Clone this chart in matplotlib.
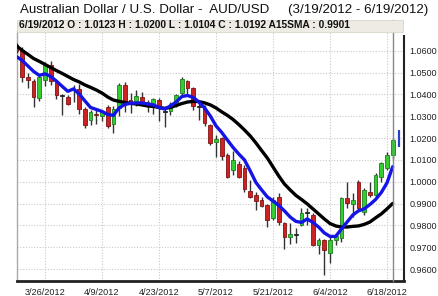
import matplotlib
matplotlib.use("Agg")
import matplotlib.pyplot as plt
import matplotlib.transforms as mtransforms
from matplotlib.patches import Rectangle
import numpy as np
import pandas as pd

# ---------------- data ----------------
dates = pd.bdate_range("2012-03-19", "2012-06-19")
opens = [1.0625, 1.0603, 1.0481, 1.0463, 1.0383, 1.0468, 1.0535, 1.0458, 1.0394, 1.0388,
         1.0420, 1.0423, 1.0334, 1.0285, 1.0312, 1.0302, 1.0340, 1.0265, 1.0336, 1.0443,
         1.0372, 1.0360, 1.0390, 1.0355, 1.0340, 1.0375, 1.0325, 1.0322, 1.0358, 1.0405,
         1.0462, 1.0428, 1.0345, 1.0336, 1.0262, 1.0184, 1.0199, 1.0123, 1.0054, 1.0080,
         1.0062, 0.9960, 0.9940, 0.9917, 0.9894, 0.9833, 0.9932, 0.9810, 0.9747, 0.9760,
         0.9802, 0.9860, 0.9848, 0.9711, 0.9734, 0.9674, 0.9734, 0.9743, 0.9925, 0.9900,
         1.0001, 0.9864, 0.9955, 0.9940, 1.0024, 1.0062, 1.0123]
highs = [1.0635, 1.0618, 1.0497, 1.0470, 1.0485, 1.0548, 1.0555, 1.0465, 1.0400, 1.0395,
         1.0445, 1.0446, 1.0340, 1.0330, 1.0330, 1.0330, 1.0350, 1.0345, 1.0452, 1.0458,
         1.0405, 1.0420, 1.0410, 1.0375, 1.0385, 1.0385, 1.0335, 1.0365, 1.0400, 1.0478,
         1.0468, 1.0432, 1.0360, 1.0350, 1.0265, 1.0214, 1.0205, 1.0130, 1.0143, 1.0095,
         1.0075, 1.0009, 0.9955, 0.9932, 0.9900, 0.9932, 0.9948, 0.9815, 0.9810, 0.9790,
         0.9879, 0.9880, 0.9857, 0.9745, 0.9740, 0.9757, 0.9765, 0.9932, 1.0001, 0.9948,
         1.0009, 0.9970, 1.0001, 1.0039, 1.0092, 1.0138, 1.0200]
lows = [1.0590, 1.0455, 1.0430, 1.0340, 1.0370, 1.0440, 1.0445, 1.0380, 1.0306, 1.0352,
        1.0365, 1.0310, 1.0247, 1.0260, 1.0265, 1.0280, 1.0245, 1.0225, 1.0300, 1.0320,
        1.0315, 1.0345, 1.0345, 1.0320, 1.0310, 1.0276, 1.0252, 1.0305, 1.0340, 1.0395,
        1.0400, 1.0330, 1.0283, 1.0255, 1.0168, 1.0115, 1.0100, 1.0016, 1.0032, 1.0016,
        0.9955, 0.9925, 0.9871, 0.9884, 0.9795, 0.9826, 0.9803, 0.9692, 0.9714, 0.9719,
        0.9798, 0.9802, 0.9708, 0.9671, 0.9575, 0.9628, 0.9711, 0.9726, 0.9879, 0.9841,
        0.9871, 0.9848, 0.9932, 0.9932, 1.0001, 1.0054, 1.0104]
closes = [1.0600, 1.0481, 1.0465, 1.0388, 1.0478, 1.0533, 1.0462, 1.0397, 1.0392, 1.0358,
          1.0418, 1.0335, 1.0262, 1.0320, 1.0305, 1.0318, 1.0255, 1.0335, 1.0443, 1.0360,
          1.0362, 1.0394, 1.0362, 1.0365, 1.0380, 1.0338, 1.0320, 1.0358, 1.0395, 1.0470,
          1.0430, 1.0345, 1.0340, 1.0268, 1.0176, 1.0194, 1.0118, 1.0024, 1.0100, 1.0024,
          0.9965, 0.9932, 0.9910, 0.9890, 0.9826, 0.9917, 0.9818, 0.9749, 0.9761, 0.9756,
          0.9856, 0.9856, 0.9711, 0.9734, 0.9689, 0.9734, 0.9752, 0.9925, 0.9902, 0.9917,
          0.9879, 0.9963, 0.9940, 1.0032, 1.0085, 1.0123, 1.0192]
sma_fast = [1.0573, 1.0555, 1.0530, 1.0505, 1.0487, 1.0494, 1.0482, 1.0461, 1.0437, 1.0414,
            1.0425, 1.0402, 1.0370, 1.0340, 1.0331, 1.0322, 1.0308, 1.0304, 1.0338, 1.0354,
            1.0359, 1.0361, 1.0361, 1.0356, 1.0352, 1.0340, 1.0333, 1.0347, 1.0365, 1.0390,
            1.0395, 1.0386, 1.0365, 1.0338, 1.0301, 1.0256, 1.0226, 1.0191, 1.0157, 1.0127,
            1.0100, 1.0050, 0.9997, 0.9963, 0.9931, 0.9912, 0.9892, 0.9867, 0.9839, 0.9819,
            0.9814, 0.9830, 0.9814, 0.9793, 0.9766, 0.9750, 0.9750, 0.9784, 0.9816, 0.9848,
            0.9867, 0.9876, 0.9896, 0.9919, 0.9951, 0.9995, 1.0069]
sma_15 = [1.0622, 1.0601, 1.0583, 1.0564, 1.0551, 1.0537, 1.0523, 1.0509, 1.0496, 1.0482,
          1.0468, 1.0457, 1.0443, 1.0432, 1.0420, 1.0406, 1.0388, 1.0374, 1.0368, 1.0363,
          1.0359, 1.0356, 1.0352, 1.0347, 1.0345, 1.0340, 1.0336, 1.0340, 1.0349, 1.0358,
          1.0365, 1.0368, 1.0367, 1.0361, 1.0352, 1.0338, 1.0320, 1.0304, 1.0285, 1.0262,
          1.0237, 1.0210, 1.0178, 1.0143, 1.0109, 1.0068, 1.0027, 0.9990, 0.9963, 0.9938,
          0.9919, 0.9899, 0.9876, 0.9853, 0.9830, 0.9809, 0.9798, 0.9793, 0.9793, 0.9796,
          0.9798, 0.9805, 0.9816, 0.9835, 0.9853, 0.9876, 0.9901]
y_ticks = [0.96, 0.97, 0.98, 0.99, 1.00, 1.01, 1.02, 1.03, 1.04, 1.05, 1.06]
x_tick_labels = ["3/26/2012", "4/9/2012", "4/23/2012", "5/7/2012", "5/21/2012", "6/4/2012", "6/18/2012"]
title = "Australian Dollar / U.S. Dollar -  AUD/USD     (3/19/2012 - 6/19/2012)"

# ---------------- plot ----------------
plt.rcParams['font.family'] = ['Liberation Sans', 'DejaVu Sans']
W, H = 439, 296
fig = plt.figure(figsize=(W / 100, H / 100), dpi=100)
fig.patch.set_facecolor('white')
ax = fig.add_axes([17 / W, 1 - 281 / H, (404 - 17) / W, (281 - 31) / H])

n = len(closes)
x = np.arange(n)
date_str = [f"{d.month}/{d.day}/{d.year}" for d in dates]

o = np.array(opens); c = np.array(closes); h = np.array(highs); l = np.array(lows)
up = c > o
doji = np.abs(c - o) < 0.0006
body_col = np.where(doji, '#222222', np.where(up, '#33CC33', '#CC2222'))
edge_col = np.where(doji, '#222222', np.where(up, '#1E7D1E', '#801414'))

ax.vlines(x, l, h, color='#333333', lw=1.0, zorder=3)
bottoms = np.minimum(o, c)
heights = np.maximum(np.abs(c - o), 0.0004)
ax.bar(x, heights, bottom=bottoms, width=0.64, color=body_col, edgecolor=edge_col,
       linewidth=0.6, zorder=4)

ax.plot(x, sma_15, color='black', lw=2.4, zorder=5, solid_capstyle='round')
ax.plot(x, sma_fast, color='#1414E6', lw=2.4, zorder=6, solid_capstyle='round')

# last price marker and crosshair
ax.vlines(n - 1 + 1.1, closes[-1] - 0.0032, closes[-1] + 0.0044, color='#2244CC', lw=1.6, zorder=6)
trans = mtransforms.blended_transform_factory(ax.transData, ax.transAxes)
ax.plot([n - 1, n - 1], [0, 1.045], transform=trans, color='#888888', lw=1.0,
        clip_on=False, zorder=7)

ax.set_xlim((17 - 16.5) / 5.7, (404 - 16.5) / 5.7)
ax.set_ylim(0.9546, 1.0690)

tick_pos = [date_str.index(s) for s in x_tick_labels]
ax.set_xticks(tick_pos)
ax.set_xticklabels(x_tick_labels, fontsize=6.6)
ax.set_yticks(y_ticks)
ax.set_yticklabels([f"{v:.4f}" for v in y_ticks], fontsize=6.5)
ax.yaxis.tick_right()
ax.tick_params(axis='x', length=0, pad=5, colors='#222222')
ax.tick_params(axis='y', length=0, pad=4, colors='#222222')
ax.grid(True, color='#C9C9C9', lw=0.8, linestyle=(0, (1, 1.5)))
ax.set_axisbelow(True)

ax.spines['top'].set_visible(False)
ax.spines['left'].set_color('#AAAAAA')
ax.spines['left'].set_linewidth(1.0)
ax.spines['bottom'].set_color('#222222')
ax.spines['bottom'].set_linewidth(2.0)
ax.spines['right'].set_color('#222222')
ax.spines['right'].set_linewidth(1.5)
ax.spines['right'].set_bounds(0.9546, 1.0690 - 0.0022)

# header band
band = Rectangle((17 / W, 1 - 31.5 / H), (403 - 17) / W, 11.5 / H, transform=fig.transFigure,
                 facecolor='#EDEBE3', edgecolor='#D8D6CC', lw=0.6, zorder=1)
fig.patches.append(band)
fig.text(19 / W, 1 - 25.5 / H,
         f"{date_str[-1]} O : {opens[-1]:.4f} H : {highs[-1]:.4f} L : {lows[-1]:.4f} "
         f"C : {closes[-1]:.4f} A15SMA : {sma_15[-1]:.4f}",
         fontsize=7.4, fontweight='bold', va='center', ha='left', color='#111111')
fig.text(20 / W, 1 - 9.5 / H, title, fontsize=9.6, va='center', ha='left', color='#111111')

fig.savefig("out.png", dpi=100)
